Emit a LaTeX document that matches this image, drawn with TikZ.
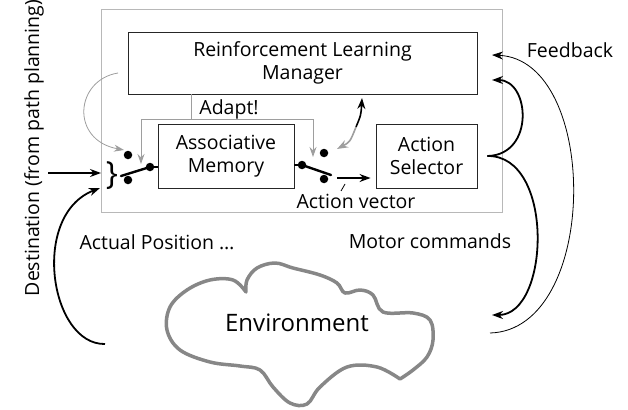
\documentclass[tikz,border=0pt]{standalone}
\usepackage{fontspec}
\setmainfont{Open Sans}
\usetikzlibrary{arrows.meta}
\definecolor{lgray}{gray}{0.62}
\definecolor{cgray}{gray}{0.53}
\definecolor{bgray}{gray}{0.72}
\begin{document}
\begin{tikzpicture}[x=1pt,y=-1pt,
  every node/.style={font=\fontsize{19.5}{23}\selectfont, text=black},
  box/.style={draw=black!85, line width=0.9pt, inner sep=0pt, align=center},
  gline/.style={draw=lgray, line width=1pt},
  garrow/.style={draw=lgray, line width=1pt, -{Stealth[length=10pt,width=7pt]}},
  barrow/.style={draw=black, line width=1.8pt, -{Stealth[length=11pt,width=8pt]}},
  tarrow/.style={draw=black, line width=0.8pt, -{Stealth[length=11pt,width=8pt]}},
  dot/.style={circle, fill=black, inner sep=0pt, minimum size=8.5pt},
  lever/.style={line width=2.4pt, line cap=round},
  cloudline/.style={draw=cgray, line width=3.5pt, line join=round}]
\useasboundingbox (0,0) rectangle (628,409);

% boxes
\node[draw=bgray, line width=1pt, minimum width=401pt, minimum height=202pt, inner sep=0pt] (outer) at (301.5,111) {};
\node[box, minimum width=349pt, minimum height=62pt] (rlm) at (302.5,63) {Reinforcement Learning\\Manager};
\node[box, minimum width=136pt, minimum height=64pt] (am) at (226,156) {Associative\\Memory};
\node[box, minimum width=101pt, minimum height=64pt] (as) at (426.5,156) {Action\\Selector};

% left switch
\node[dot] (d1) at (128,155) {};
\node[dot] (d2) at (128,180) {};
\node[dot] (p1) at (150,167) {};
\coordinate (l1) at (121,176);
\draw[lever] (p1.center) -- (l1);
\draw[line width=1.2pt] (p1.center) -- (p1.center -| am.west);
\node[font=\fontsize{32}{32}\selectfont, inner sep=0pt] (br) at (112,176) {\}};

% right switch
\node[dot] (p2) at (302,165) {};
\node[dot] (d3) at (324,153) {};
\node[dot] (d4) at (324,179) {};
\coordinate (l2) at (331,175);
\draw[lever] (p2.center) -- (l2);
\draw[line width=1.2pt] (am.east |- p2.center) -- (p2.center);

% action vector
\coordinate (avs) at (337,178);
\draw[barrow, line width=1.4pt, shorten >=5pt] (avs) -- (avs -| as.west);
\coordinate (tk1) at (341,191);
\coordinate (tk2) at (345,184);
\draw[line width=0.8pt] (tk1) -- (tk2);
\node (avl) at (356,201) {Action vector};

% adapt
\coordinate (ad) at (191,119);
\coordinate (adl) at (141,119);
\coordinate (adr) at (313,119);
\coordinate (adlt) at (141,164);
\coordinate (adrt) at (313,157);
\draw[gline] (rlm.south -| ad) -- (ad);
\draw[gline] (adl) -- (adr);
\draw[garrow] (adl) -- (adlt);
\draw[garrow] (adr) -- (adrt);
\node (adapt) at (229,109) {Adapt!};

% gray loop from manager
\coordinate (gs) at (118,73);
\coordinate (ge) at (124,150);
\draw[garrow, line width=0.8pt] (gs) .. controls (75,80) and (70,140) .. (ge);

% manager <-> switch
\coordinate (mid) at (356,127);
\coordinate (mtop) at (362,98);
\coordinate (mbot) at (337,149);
\draw[barrow, line width=1.6pt] (mid) .. controls (361,115) .. (mtop);
\draw[garrow, line width=1.6pt, -{Stealth[length=11pt,width=8pt]}] (mid) .. controls (350,142) .. (mbot);

% destination
\coordinate (dst) at (48,173);
\coordinate (dtip) at (101,173);
\draw[barrow] (dst) -- (dtip);
\node[rotate=90] (destl) at (34,148) {Destination (from path planning)};

% actual position
\coordinate (ap) at (105,344);
\coordinate (aptip) at (100,188);
\draw[barrow] (ap) .. controls (50,345) and (30,215) .. (aptip);
\node (apl) at (157,242) {Actual Position \dots};

% motor commands
\coordinate (ms) at ([xshift=10pt]as.east);
\coordinate (mt1) at (492,80);
\coordinate (mt2) at (492,315);
\draw[barrow] (ms) .. controls (535,155) and (530,80) .. (mt1);
\draw[barrow] (ms) .. controls (555,155) and (550,315) .. (mt2);
\node (mcl) at (430,241) {Motor commands};

% feedback
\coordinate (fs) at (490,333);
\coordinate (ft) at (492,55);
\draw[tarrow] (fs) .. controls (600,330) and (600,60) .. (ft);
\node (fbl) at (570,50) {Feedback};

% environment cloud
\draw[cloudline] plot[smooth, tension=0.6] coordinates {(246,292) (247,280) (257,268) (275,263) (293,268) (320,275) (337,283) (345,293) (360,290) (373,295) (383,312) (413,313) (430,320) (433,340) (427,357) (413,370) (400,379)}
  -- plot[smooth, tension=0.6] coordinates {(400,379) (377,367) (347,367) (320,387) (307,404) (290,403) (273,387) (260,370) (240,366) (210,362) (180,350) (167,330) (170,307) (187,290) (210,280) (233,280) (246,292)} -- cycle;
\node[font=\fontsize{24}{24}\selectfont] (env) at (297,323) {Environment};
\end{tikzpicture}
\end{document}
